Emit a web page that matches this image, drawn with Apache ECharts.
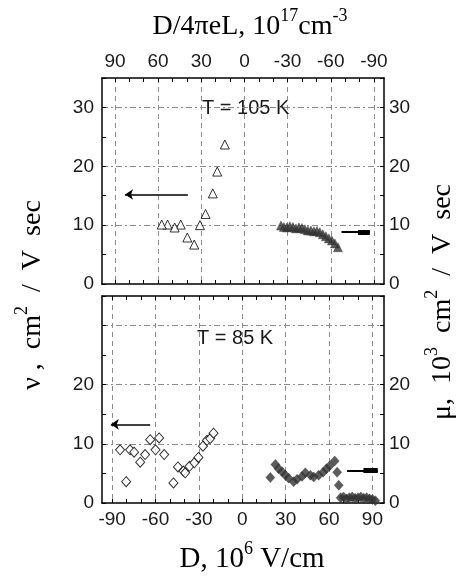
<!DOCTYPE html>
<html><head><meta charset="utf-8">
<script src="https://cdn.jsdelivr.net/npm/echarts@6/dist/echarts.min.js"></script>
<style>html,body{margin:0;padding:0;background:#fff}#c{width:456px;height:577px}</style>
</head><body><div id="c"></div>
<script>
// ---- tick values ----
const xTickLabels = [-90, -60, -30, 0, 30, 60, 90];
const xTicks = [-90, -80, -70, -60, -50, -40, -30, -20, -10, 0, 10, 20, 30, 40, 50, 60, 70, 80, 90];
const yTicks = [0, 5, 10, 15, 20, 25, 30, 35];
const yLabelsTop = [0, 10, 20, 30];
const yLabelsBottom = [0, 10, 20];
const ySplit = [10, 20, 30];

// ---- top panel, T = 105 K (x in D/4πeL, 10^17 cm^-3) ----
const topNuX = [13.6, 18.9, 22.0, 27.0, 30.9, 34.9, 39.7, 44.3, 48.5, 53.4, 57.5];
const topNuY = [23.7, 19.1, 15.4, 11.9, 10.0, 6.7, 7.9, 10.1, 9.6, 10.1, 10.1];
const topMuX = [-25.4, -27.4, -29.5, -31.6, -33.7, -35.8, -37.9, -40.0, -42.0, -44.1, -46.2, -48.3, -50.4, -52.4, -54.5, -56.6, -58.7, -60.8, -62.9, -65.0];
const topMuY = [9.95, 9.7, 9.6, 9.8, 9.7, 9.45, 9.6, 9.5, 9.3, 9.1, 9.1, 8.95, 9.0, 8.8, 8.45, 8.1, 7.75, 7.4, 6.9, 6.25];

// ---- bottom panel, T = 85 K (x in D, 10^6 V/cm) ----
const botNuX = [-84.5, -80.3, -77.6, -74.8, -70.6, -67.2, -63.7, -60.0, -57.5, -54.0, -47.6, -44.5, -40.7, -39.5, -36.5, -33.2, -30.3, -27.2, -24.4, -22.2, -19.9];
const botNuY = [9.0, 3.6, 9.0, 8.6, 6.9, 8.2, 10.7, 9.0, 11.0, 8.2, 3.4, 6.1, 5.4, 5.1, 6.2, 6.8, 7.7, 9.6, 10.6, 10.9, 11.8];
const botMuX = [19.4, 22.9, 25.1, 27.5, 29.8, 32.1, 35.5, 37.9, 41.3, 43.6, 47.1, 49.4, 52.8, 55.9, 58.2, 60.5, 63.9, 65.6, 66.7, 68, 70, 72, 74, 76, 78, 80, 82, 84, 86, 88, 90, 92];
const botMuY = [4.3, 6.5, 5.8, 5.3, 4.7, 4.2, 3.6, 4.0, 4.5, 5.1, 4.7, 4.4, 4.7, 5.2, 5.8, 6.3, 7.1, 5.2, 3.0, 0.9, 1.0, 0.7, 0.9, 1.0, 0.8, 0.9, 1.0, 0.8, 0.9, 0.7, 0.6, 0.4];

// ---- arrows [x0, x1, y] ----
const arrowTopNu = [39.3, 83.0, 15.2];
const arrowTopMu = [-67.5, -87.2, 8.8];
const arrowTopMuHead = [-78.9, -87.2, 8.8];
const arrowBotNu = [-63.7, -90.9, 13.3];
const arrowBotMu = [72.5, 93.7, 5.5];
const arrowBotMuHead = [83.8, 93.7, 5.5];

const zip = (xs, ys) => xs.map((x, i) => [x, ys[i]]);
const seg = a => [{ coords: [[a[0], a[2]], [a[1], a[2]]] }];

const LABEL = { fontFamily: 'Liberation Sans', fontSize: 19, color: '#1a1a1a' };
const AXLINE = { onZero: false, lineStyle: { color: '#000', width: 1.5 } };
const TICK = { inside: true, length: 4, lineStyle: { color: '#000', width: 1 } };
const GRIDC = '#8c8c8c';

function xAxes(gi, inverse, min, max, labelPos) {
  const other = labelPos === 'top' ? 'bottom' : 'top';
  const b = { type: 'value', gridIndex: gi, min, max, inverse };
  return [
    Object.assign({}, b, { position: labelPos, axisLine: AXLINE, axisTick: Object.assign({ customValues: xTicks }, TICK),
      axisLabel: Object.assign({ customValues: xTickLabels, margin: 7 }, LABEL), splitLine: { show: false } }),
    Object.assign({}, b, { position: other, axisLine: AXLINE, axisTick: Object.assign({ customValues: xTicks }, TICK),
      axisLabel: { show: false }, splitLine: { show: false } }),
    Object.assign({}, b, { position: other, axisLine: { show: false, onZero: false }, axisTick: { show: false, customValues: xTickLabels },
      axisLabel: { show: false }, splitLine: { show: true, lineStyle: { color: GRIDC, width: 1, type: [5, 4] } } })
  ];
}
function yAxes(gi, labels) {
  const b = { type: 'value', gridIndex: gi, min: 0, max: 35 };
  return [
    Object.assign({}, b, { position: 'left', axisLine: AXLINE, axisTick: Object.assign({ customValues: yTicks }, TICK),
      axisLabel: Object.assign({ customValues: labels, margin: 8 }, LABEL), splitLine: { show: false } }),
    Object.assign({}, b, { position: 'right', axisLine: AXLINE, axisTick: Object.assign({ customValues: yTicks }, TICK),
      axisLabel: Object.assign({ customValues: labels, margin: 5 }, LABEL), splitLine: { show: false } }),
    Object.assign({}, b, { position: 'left', axisLine: { show: false, onZero: false }, axisTick: { show: false, customValues: ySplit },
      axisLabel: { show: false }, splitLine: { show: true, lineStyle: { color: GRIDC, width: 1, type: [6, 3, 2, 3] } } })
  ];
}

const chart = echarts.init(document.getElementById('c'), null, { renderer: 'canvas' });
const openStyle = { color: '#fff', borderColor: '#000', borderWidth: 1 };
const fillStyle = { color: '#333', borderColor: '#333', borderWidth: 0.5 };
function arrow(xi, yi, data, width, sym) {
  return { type: 'lines', coordinateSystem: 'cartesian2d', xAxisIndex: xi, yAxisIndex: yi, data,
    symbol: ['none', sym], symbolSize: 8, lineStyle: { color: '#000', width, opacity: 1, curveness: 0 }, silent: true, z: 5 };
}

const serif = 'Liberation Serif';
const richMain = (fs) => ({ fontFamily: serif, fontSize: fs, lineHeight: 34, verticalAlign: 'bottom', fill: '#000' });
const richSup = (fs) => ({ fontFamily: serif, fontSize: fs, lineHeight: 26, verticalAlign: 'top', fill: '#000' });

chart.setOption({
  animation: false,
  backgroundColor: '#fff',
  grid: [
    { left: 102, right: 72, top: 78, height: 206 },
    { left: 102, right: 72, top: 296, height: 207 }
  ],
  xAxis: [].concat(xAxes(0, true, -97, 99, 'top'), xAxes(1, false, -97, 98, 'bottom')),
  yAxis: [].concat(yAxes(0, yLabelsTop), yAxes(1, yLabelsBottom)),
  series: [
    { type: 'scatter', xAxisIndex: 0, yAxisIndex: 0, data: zip(topNuX, topNuY), symbol: 'triangle', symbolSize: 9, itemStyle: openStyle, z: 4 },
    { type: 'scatter', xAxisIndex: 0, yAxisIndex: 0, data: zip(topMuX, topMuY), symbol: 'triangle', symbolSize: 9, itemStyle: fillStyle, z: 4 },
    { type: 'scatter', xAxisIndex: 3, yAxisIndex: 3, data: zip(botNuX, botNuY), symbol: 'diamond', symbolSize: [9, 10], itemStyle: openStyle, z: 4 },
    { type: 'scatter', xAxisIndex: 3, yAxisIndex: 3, data: zip(botMuX, botMuY), symbol: 'diamond', symbolSize: [9, 10], itemStyle: fillStyle, z: 4 },
    arrow(0, 0, seg(arrowTopNu), 1.5, 'arrow'),
    arrow(0, 0, seg(arrowTopMu), 2, 'none'),
    arrow(0, 0, seg(arrowTopMuHead), 5, 'none'),
    arrow(3, 3, seg(arrowBotNu), 1.5, 'arrow'),
    arrow(3, 3, seg(arrowBotMu), 2, 'none'),
    arrow(3, 3, seg(arrowBotMuHead), 5, 'none')
  ],
  graphic: [
    { type: 'text', x: 202, y: 108, style: { text: 'T = 105 K', fontFamily: 'Liberation Sans', fontSize: 20, fill: '#1a1a1a', verticalAlign: 'middle' } },
    { type: 'text', x: 197, y: 338, style: { text: 'T = 85 K', fontFamily: 'Liberation Sans', fontSize: 20, fill: '#1a1a1a', verticalAlign: 'middle' } },
    { type: 'text', x: 250, y: 24, style: { text: '{m|D/4πeL, 10}{s|17}{m|cm}{s|-3}', align: 'center', verticalAlign: 'middle',
      rich: { m: richMain(28), s: richSup(18) } } },
    { type: 'text', x: 252, y: 557, style: { text: '{m|D, 10}{s|6}{m| V/cm}', align: 'center', verticalAlign: 'middle',
      rich: { m: richMain(29), s: richSup(18) } } },
    { type: 'text', x: 30, y: 295, rotation: Math.PI / 2, style: { text: '{m|ν ,  cm}{s|2}{m|  /  V  sec}', align: 'center', verticalAlign: 'middle',
      rich: { m: richMain(28), s: richSup(18) } } },
    { type: 'text', x: 440, y: 302, rotation: Math.PI / 2, style: { text: '{m|μ,  10}{s|3}{m|  cm}{s|2}{m|  /  V  sec}', align: 'center', verticalAlign: 'middle',
      rich: { m: richMain(28), s: richSup(18) } } }
  ]
});
</script></body></html>
